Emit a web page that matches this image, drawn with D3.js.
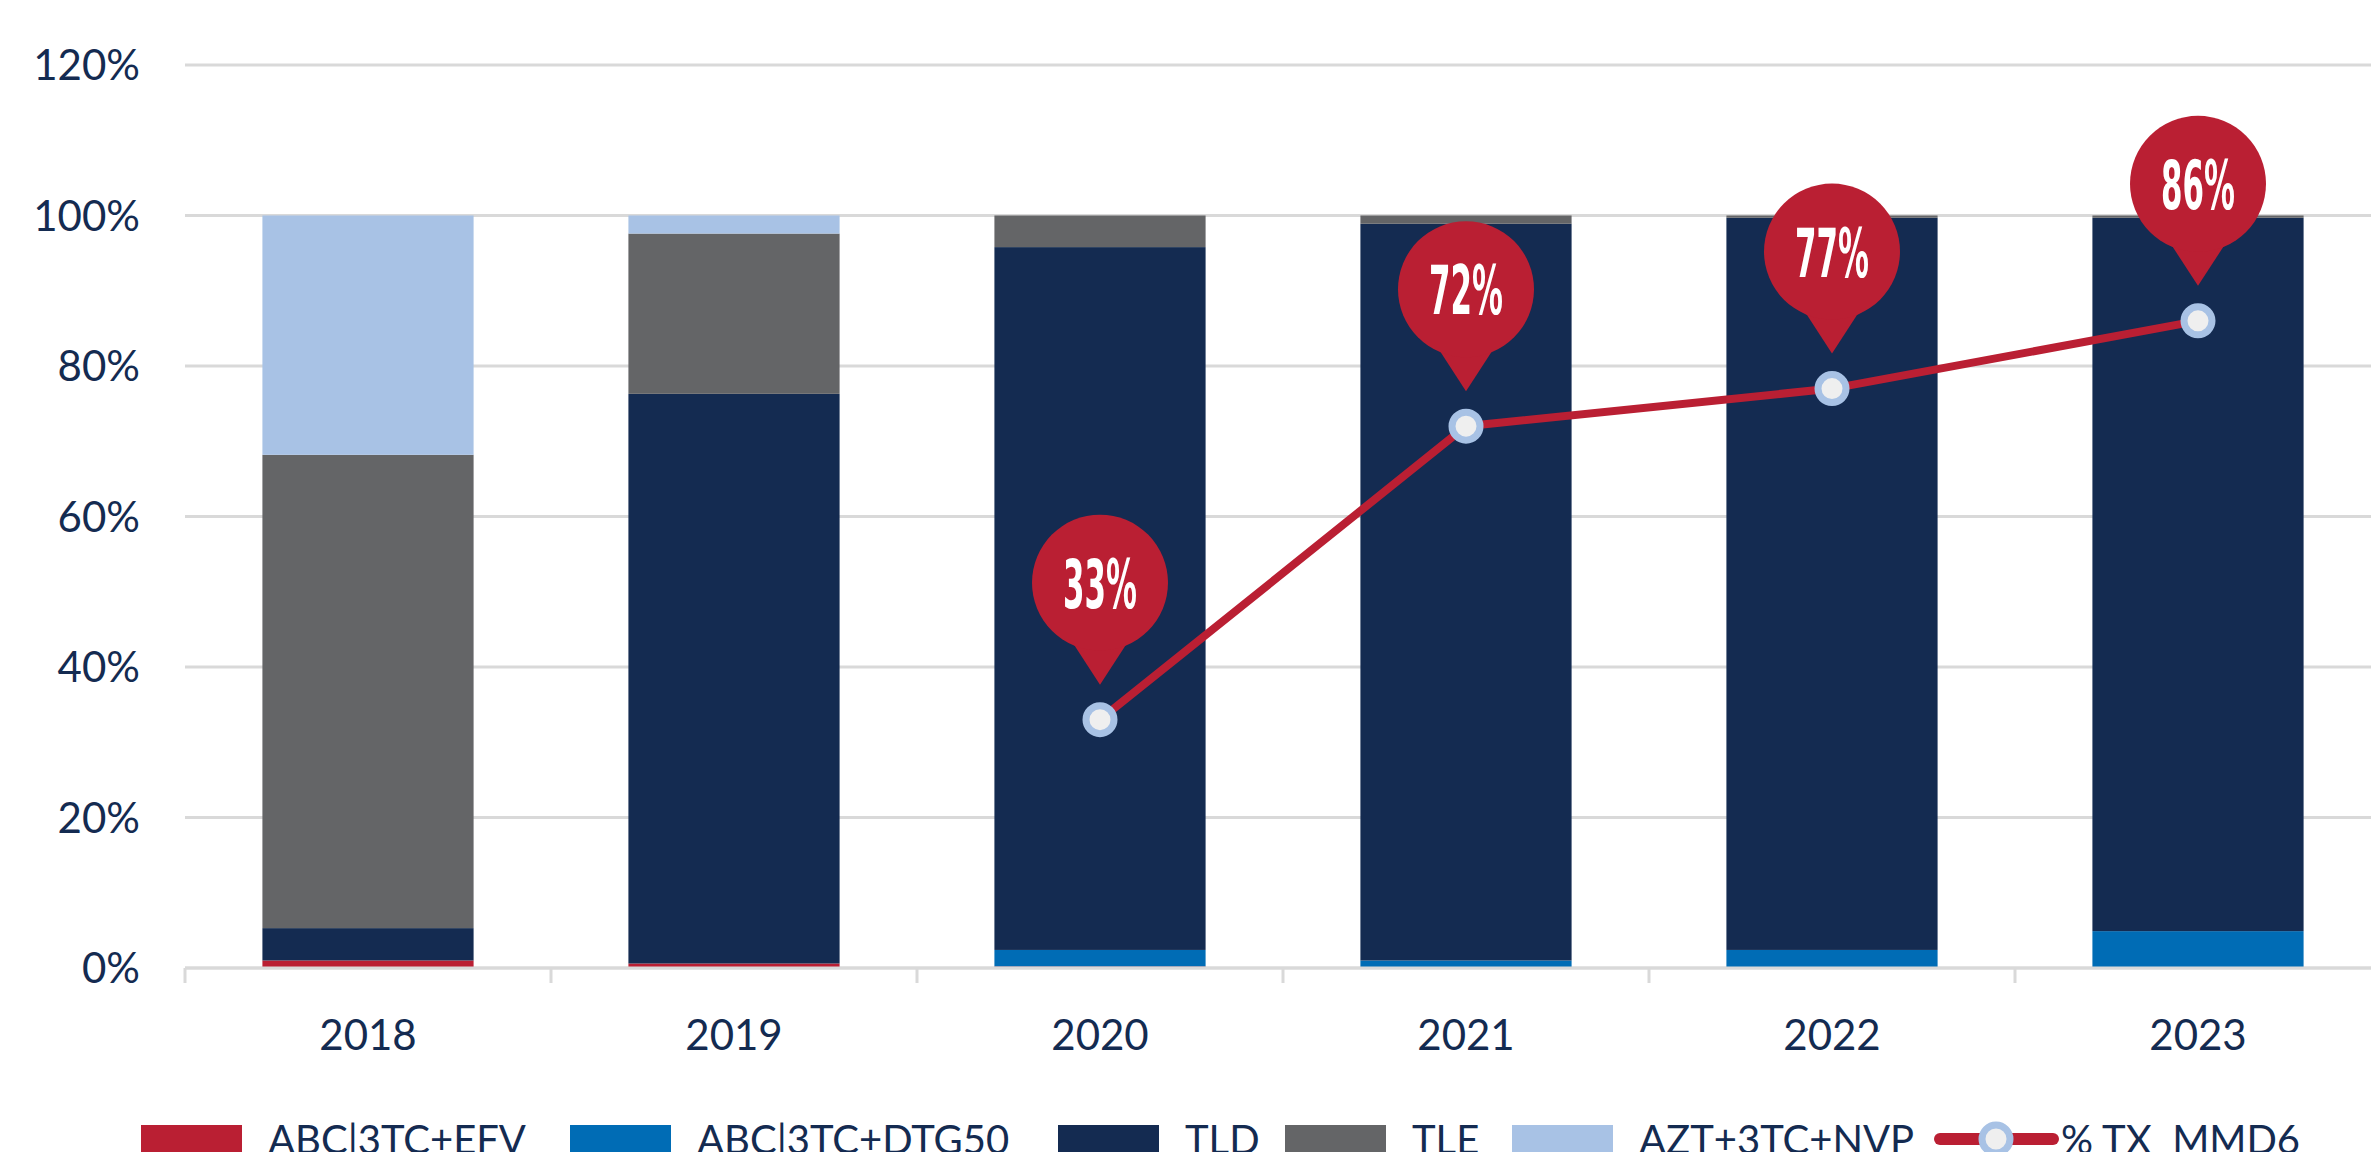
<!DOCTYPE html>
<html>
<head>
<meta charset="utf-8">
<script src="https://cdn.jsdelivr.net/npm/d3@7"></script>
<style>
  body { margin: 0; background: #fff; overflow: hidden; }
  svg { display: block; }
  text { font-family: Lato, "Open Sans", sans-serif; fill: #142b51; }
</style>
</head>
<body>
<svg id="chart" width="2371" height="1152"></svg>
<script>
// data (percent of patients)
const years = ["2018", "2019", "2020", "2021", "2022", "2023"];
const abcEfv = [1.0, 0.6, 0.2, 0.0, 0.0, 0.0];
const abcDtg = [0.0, 0.0, 2.2, 1.0, 2.4, 4.9];
const tld = [4.3, 75.7, 93.4, 97.9, 97.3, 94.8];
const tle = [62.9, 21.3, 4.2, 1.1, 0.3, 0.3];
const aztNvp = [31.8, 2.4, 0.0, 0.0, 0.0, 0.0];
const mmd6 = [null, null, 33, 72, 77, 86];
const yTicks = [0, 20, 40, 60, 80, 100, 120];

const seriesNames = ["ABC|3TC+EFV", "ABC|3TC+DTG50", "TLD", "TLE", "AZT+3TC+NVP"];
const seriesColors = ["#ba1f33", "#006cb5", "#142b51", "#646567", "#a8c2e5"];
const lineName = "% TX  MMD6";
const lineColor = "#ba1f33";

// build rows for the stack
const rows = years.map((y, i) => ({
  year: y,
  "ABC|3TC+EFV": abcEfv[i],
  "ABC|3TC+DTG50": abcDtg[i],
  "TLD": tld[i],
  "TLE": tle[i],
  "AZT+3TC+NVP": aztNvp[i]
}));

const svg = d3.select("#chart");

const x = d3.scaleBand()
  .domain(years)
  .range([185, 2381])
  .paddingInner(0.423)
  .paddingOuter(0.2115);

const xCat = d3.scaleBand().domain(years).range([185, 2381]);

const y = d3.scaleLinear().domain([0, 120]).range([968, 65]);

// gridlines
svg.append("g")
  .selectAll("line")
  .data(yTicks)
  .join("line")
  .attr("x1", 185)
  .attr("x2", 2371)
  .attr("y1", d => y(d))
  .attr("y2", d => y(d))
  .attr("stroke", "#d9d9d9")
  .attr("stroke-width", 3);

// y labels
svg.append("g")
  .selectAll("text")
  .data(yTicks)
  .join("text")
  .attr("x", 140)
  .attr("y", d => y(d))
  .attr("dy", "0.36em")
  .attr("text-anchor", "end")
  .style("font-size", "42px")
  .text(d => d + "%");

// stacked bars
const stack = d3.stack().keys(seriesNames);
const layers = stack(rows);

svg.append("g")
  .selectAll("g")
  .data(layers)
  .join("g")
  .attr("fill", (d, i) => seriesColors[i])
  .selectAll("rect")
  .data(d => d)
  .join("rect")
  .attr("x", d => x(d.data.year))
  .attr("width", x.bandwidth())
  .attr("y", d => y(d[1]))
  .attr("height", d => y(d[0]) - y(d[1]));

// x axis (ticks between categories)
const axisG = svg.append("g");
axisG.append("line")
  .attr("x1", 185).attr("x2", 2371)
  .attr("y1", y(0)).attr("y2", y(0))
  .attr("stroke", "#d9d9d9").attr("stroke-width", 3);
axisG.selectAll(".tk")
  .data(years)
  .join("line")
  .attr("class", "tk")
  .attr("x1", d => xCat(d)).attr("x2", d => xCat(d))
  .attr("y1", y(0)).attr("y2", y(0) + 15)
  .attr("stroke", "#d9d9d9").attr("stroke-width", 3);
axisG.selectAll("text")
  .data(years)
  .join("text")
  .attr("x", d => xCat(d) + xCat.bandwidth() / 2)
  .attr("y", 1050)
  .attr("text-anchor", "middle")
  .style("font-size", "42px")
  .text(d => d);

// line series
const pts = years.map((yr, i) => ({ year: yr, v: mmd6[i] })).filter(d => d.v != null);
const cx = d => x(d.year) + x.bandwidth() / 2;

svg.append("path")
  .datum(pts)
  .attr("fill", "none")
  .attr("stroke", lineColor)
  .attr("stroke-width", 8)
  .attr("d", d3.line().x(cx).y(d => y(d.v)));

svg.append("g")
  .selectAll("circle")
  .data(pts)
  .join("circle")
  .attr("cx", cx)
  .attr("cy", d => y(d.v))
  .attr("r", 14)
  .attr("fill", "#efefef")
  .attr("stroke", "#a8c2e5")
  .attr("stroke-width", 7);

// callout pins
const pin = svg.append("g")
  .selectAll("g")
  .data(pts)
  .join("g")
  .attr("transform", d => `translate(${cx(d)},${y(d.v)})`);

pin.append("path")
  .attr("d", "M-37,-92 L37,-92 L0,-35 Z")
  .attr("fill", lineColor);
pin.append("circle")
  .attr("cy", -137)
  .attr("r", 68)
  .attr("fill", lineColor);
pin.append("text")
  .attr("y", -112)
  .attr("text-anchor", "middle")
  .attr("textLength", 74)
  .attr("lengthAdjust", "spacingAndGlyphs")
  .style("font-family", "'DejaVu Sans Condensed', 'DejaVu Sans', sans-serif")
  .style("font-weight", "bold")
  .style("font-size", "68px")
  .style("fill", "#fff")
  .text(d => d.v + "%");

// legend
const legendX = [141, 570, 1058, 1285, 1512, 1940];
const legY = 1139;
const leg = svg.append("g");
seriesNames.forEach((name, i) => {
  leg.append("rect")
    .attr("x", legendX[i])
    .attr("y", legY - 14)
    .attr("width", 101)
    .attr("height", 32)
    .attr("fill", seriesColors[i]);
  leg.append("text")
    .attr("x", legendX[i] + 127)
    .attr("y", legY + 15)
    .style("font-size", "40px")
    .text(name);
});
const lx = legendX[5];
leg.append("line")
  .attr("x1", lx).attr("x2", lx + 113)
  .attr("y1", legY).attr("y2", legY)
  .attr("stroke", lineColor).attr("stroke-width", 12)
  .attr("stroke-linecap", "round");
leg.append("circle")
  .attr("cx", lx + 56).attr("cy", legY)
  .attr("r", 14)
  .attr("fill", "#efefef")
  .attr("stroke", "#a8c2e5")
  .attr("stroke-width", 7);
leg.append("text")
  .attr("x", lx + 121)
  .attr("y", legY + 15)
  .style("font-size", "40px")
  .attr("xml:space", "preserve")
  .style("white-space", "pre")
  .text(lineName);
</script>
</body>
</html>
